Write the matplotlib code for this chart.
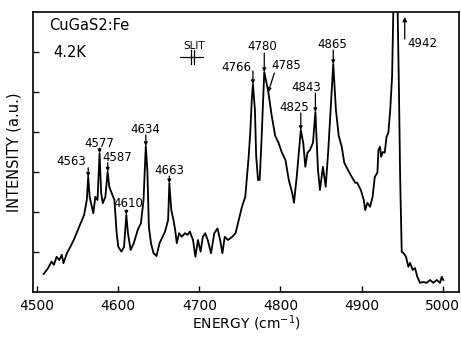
import numpy as np
import matplotlib
matplotlib.use("Agg")
import matplotlib.pyplot as plt
from matplotlib.transforms import blended_transform_factory, offset_copy

# traced spectrum, CuGaS2:Fe at 4.2 K
energy = [4508, 4513.4, 4517.8, 4520.7, 4524.1, 4527.4, 4530.5, 4532.5, 4536.8, 4541,
          4545.2, 4549.5, 4553.7, 4558, 4561.3, 4563, 4564.8, 4567.6, 4569.3, 4571.8,
          4574.5, 4577, 4579, 4581, 4584.2, 4587, 4589, 4592.1, 4595.3, 4598.1,
          4600.1, 4604, 4607.2, 4610, 4612, 4615.3, 4619.2, 4624, 4628, 4631.2,
          4634, 4636, 4637.8, 4640.4, 4643.5, 4647.2, 4650.9, 4657.7, 4661.5, 4663,
          4665.4, 4668.1, 4670.2, 4672.2, 4675, 4678.3, 4682.2, 4685.5, 4688.3, 4692.2,
          4695.1, 4698.3, 4701.5, 4704.3, 4707.2, 4710.3, 4714.4, 4718.4, 4722.4, 4725.6,
          4728.4, 4731.3, 4735.3, 4740.5, 4744.6, 4748.5, 4752.5, 4756.6, 4760.6, 4762.7,
          4764.6, 4766, 4768.5, 4770, 4772.3, 4774.3, 4776.1, 4778.1, 4780, 4785,
          4789.2, 4793.5, 4797.6, 4801.8, 4806.1, 4810.2, 4814.4, 4816.6, 4820, 4822.9,
          4825, 4828, 4830.6, 4833.2, 4836.3, 4840, 4843, 4846.2, 4848.6, 4852.3,
          4855.7, 4858.9, 4861.8, 4865, 4868.3, 4871.8, 4875.5, 4878.6, 4883.2, 4887.7,
          4892.2, 4894.5, 4899, 4902.6, 4904.4, 4907.1, 4910.4, 4913.5, 4916.2, 4919.4,
          4920.7, 4922.6, 4924, 4926.1, 4928.4, 4930.7, 4932.9, 4935.2, 4937.5, 4938.5,
          4939.5, 4942, 4944, 4946, 4947.5, 4949.4, 4951.4, 4954.7, 4957.5, 4959.6,
          4963, 4965.8, 4968.6, 4972, 4976, 4980.2, 4984.3, 4988.3, 4992.5, 4996.6,
          4998.7, 5000.7]
intensity = [0.45, 0.59, 0.76, 0.68, 0.88, 0.80, 0.93, 0.72, 0.97, 1.13,
             1.30, 1.51, 1.72, 1.93, 2.30, 2.88, 2.38, 2.13, 1.97, 2.38,
             2.30, 3.47, 2.47, 2.22, 2.38, 3.01, 2.63, 2.47, 2.30, 1.47,
             1.13, 1.01, 1.13, 1.93, 1.47, 1.05, 1.22, 1.55, 1.72, 2.30,
             3.65, 3.00, 1.63, 1.22, 0.97, 0.90, 1.22, 1.51, 1.80, 2.72,
             2.05, 1.80, 1.55, 1.22, 1.47, 1.38, 1.47, 1.43, 1.51, 1.30,
             0.88, 1.30, 1.01, 1.38, 1.47, 1.30, 0.97, 1.47, 1.59, 1.30,
             0.97, 1.38, 1.30, 1.38, 1.47, 1.80, 2.13, 2.38, 3.34, 3.97,
             4.80, 5.20, 4.55, 3.40, 2.80, 2.80, 3.55, 4.55, 5.50, 5.00,
             4.40, 3.90, 3.73, 3.48, 3.30, 2.80, 2.48, 2.23, 2.88, 3.55,
             4.05, 3.73, 3.13, 3.48, 3.55, 3.73, 4.50, 3.05, 2.55, 3.13,
             2.63, 3.55, 4.55, 5.70, 4.55, 3.90, 3.63, 3.23, 3.05, 2.88,
             2.73, 2.73, 2.55, 2.30, 2.05, 2.23, 2.13, 2.38, 2.88, 2.98,
             3.55, 3.63, 3.38, 3.50, 3.48, 3.88, 3.98, 4.55, 5.38, 6.50,
             7.50, 9.00, 7.50, 5.00, 2.80, 1.00, 0.98, 0.88, 0.63, 0.73,
             0.55, 0.60, 0.38, 0.23, 0.25, 0.23, 0.30, 0.23, 0.30, 0.23,
             0.38, 0.30]

peak_labels = [4563, 4577, 4587, 4610, 4634, 4663, 4766, 4780, 4785, 4825, 4843, 4865]
offscale_peak = 4942
xticks = [4500, 4600, 4700, 4800, 4900, 5000]

# label layout, pixels relative to the peak: text dx, dy and leader (dx, dy)
label_layout = {
    4563: (-17, 15, 0, 9),
    4577: (0, 10, 0, 5),
    4587: (10, 14, 0, 9),
    4610: (2, 11, 0, 5),
    4634: (0, 17, 0, 11),
    4663: (0, 13, 0, 7),
    4766: (-17, 17, 0, 13),
    4780: (-2, 26, 0, 19),
    4785: (18, 27, 6, 19),
    4825: (-7, 23, 0, 17),
    4843: (-9, 25, 0, 19),
    4865: (-1, 19, 0, 14),
}

PX = 0.72  # points per pixel at dpi 100

fig = plt.figure(figsize=(4.61, 3.37), dpi=100)
ax = fig.add_axes([0.0716, 0.1335, 0.9241, 0.8309])

ax.plot(energy, intensity, color="black", linewidth=1.3)

ax.set_xlim(4495, 5020)
ax.set_ylim(0, 7)
ax.set_xticks(xticks)
ax.set_yticks([1, 2, 3, 4, 5, 6])
ax.set_yticklabels([])
ax.tick_params(direction="in", length=4, width=1, top=False, right=False)
ax.tick_params(axis="x", labelsize=10, pad=5)
for s in ax.spines.values():
    s.set_linewidth(1.2)

ax.set_xlabel(r"ENERGY (cm$^{-1}$)", fontsize=10, labelpad=0)
ax.set_ylabel("INTENSITY (a.u.)", fontsize=10.5, labelpad=5)

for e in peak_labels:
    h = np.interp(e, energy, intensity)
    tx, ty, lx, ly = label_layout[e]
    ax.annotate("", xy=(e, h), xytext=(lx * PX, ly * PX), textcoords="offset points",
                arrowprops=dict(arrowstyle="-|>", lw=0.9, color="black",
                                mutation_scale=5, shrinkA=0, shrinkB=0))
    ax.annotate(str(e), xy=(e, h), xytext=(tx * PX, ty * PX), textcoords="offset points",
                ha="center", va="center", fontsize=8.5)

# off-scale main line: upward arrow just right of the clipped peak
blend = blended_transform_factory(ax.transData, ax.transAxes)
arrow_tr = offset_copy(blend, fig=fig, x=9 * PX, y=0, units="points")
ax.annotate("", xy=(offscale_peak, 0.982), xycoords=arrow_tr,
            xytext=(0, -22 * PX), textcoords="offset points",
            arrowprops=dict(arrowstyle="-|>", lw=0.9, color="black",
                            mutation_scale=6, shrinkA=0, shrinkB=0),
            annotation_clip=False)
ax.annotate(str(offscale_peak), xy=(offscale_peak, 0.982), xycoords=arrow_tr,
            xytext=(3 * PX, -26 * PX), textcoords="offset points",
            ha="left", va="center", fontsize=8.5)

ax.text(0.038, 0.95, "CuGaS2:Fe", transform=ax.transAxes, fontsize=10.5,
        ha="left", va="center")
ax.text(0.047, 0.855, "4.2K", transform=ax.transAxes, fontsize=10.5,
        ha="left", va="center")

# slit width marker
ax.text(0.378, 0.88, "SLIT", transform=ax.transAxes, fontsize=7.5,
        ha="center", va="center")
ax.plot([0.345, 0.400], [0.84, 0.84], transform=ax.transAxes, color="black", lw=0.9)
ax.plot([0.370, 0.370], [0.815, 0.865], transform=ax.transAxes, color="black", lw=0.9)
ax.plot([0.378, 0.378], [0.815, 0.865], transform=ax.transAxes, color="black", lw=0.9)

fig.savefig("out.png", dpi=100)
